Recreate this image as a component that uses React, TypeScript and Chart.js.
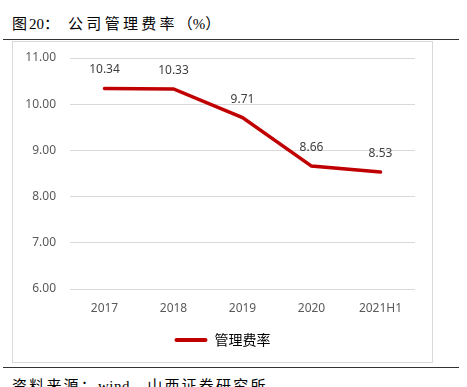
import React, { useEffect, useRef } from "react";
import { Chart, registerables } from "chart.js";

Chart.register(...registerables);

const categories = ["2017", "2018", "2019", "2020", "2021H1"];
const seriesName = "管理费率";
const values = [10.34, 10.33, 9.71, 8.66, 8.53];
const yTicks = [6, 7, 8, 9, 10, 11];

const RED = "#C00000";
const FONT = "'Noto Sans', 'Noto Sans CJK SC', sans-serif";
const CJK = "'Noto Sans CJK SC', sans-serif";
const SERIF = "'Liberation Serif', serif";

const dataLabelPlugin = {
  id: "dataLabels",
  afterDatasetsDraw(chart: any) {
    const ctx = chart.ctx;
    const meta = chart.getDatasetMeta(0);
    ctx.save();
    ctx.font = `12px ${FONT}`;
    ctx.fillStyle = "#404040";
    ctx.textAlign = "center";
    ctx.textBaseline = "middle";
    meta.data.forEach((pt: any, i: number) => {
      ctx.fillText(values[i].toFixed(2), pt.x, pt.y - 18.5);
    });
    ctx.restore();
  },
};

const centerLegendPlugin = {
  id: "centerLegend",
  afterLayout(chart: any) {
    const lg = chart.legend;
    if (lg) {
      lg.left = 0;
      lg.right = chart.width;
      lg.width = chart.width;
    }
  },
};

export default function App() {
  const canvasRef = useRef<HTMLCanvasElement | null>(null);

  useEffect(() => {
    const canvas = canvasRef.current;
    if (!canvas) return;
    const chart = new Chart(canvas, {
      type: "line",
      data: {
        labels: categories,
        datasets: [
          {
            label: seriesName,
            data: values,
            borderColor: RED,
            backgroundColor: RED,
            borderWidth: 3.5,
            borderCapStyle: "round",
            borderJoinStyle: "miter",
            pointRadius: 0,
            tension: 0,
          },
        ],
      },
      options: {
        responsive: false,
        animation: false,
        layout: { padding: { top: 16, left: 0, right: 17, bottom: 5 } },
        scales: {
          x: {
            offset: true,
            grid: { display: false, drawTicks: false },
            border: { display: false },
            ticks: {
              color: "#595959",
              font: { family: FONT, size: 12 },
              padding: 12,
            },
            afterFit(scale: any) {
              scale.height = 34;
            },
          },
          y: {
            min: 6,
            max: 11,
            grid: { color: "#d9d9d9", lineWidth: 1, drawTicks: false },
            border: { display: false },
            afterBuildTicks(scale: any) {
              scale.ticks = yTicks.map((v) => ({ value: v }));
            },
            ticks: {
              color: "#595959",
              font: { family: FONT, size: 12 },
              padding: 14,
              callback: (v: any) => Number(v).toFixed(2),
            },
            afterFit(scale: any) {
              scale.width = 57;
              scale.paddingTop = 0;
              scale.paddingBottom = 0;
            },
          },
        },
        plugins: {
          legend: {
            position: "bottom",
            labels: {
              color: "#808080",
              font: { family: CJK, size: 14 },
              padding: 10,
              useBorderRadius: true,
              borderRadius: 2,
              generateLabels: () => [
                {
                  text: seriesName,
                  fillStyle: RED,
                  strokeStyle: RED,
                  lineWidth: 0,
                  hidden: false,
                  datasetIndex: 0,
                  borderRadius: 2,
                },
              ],
              boxWidth: 33,
              boxHeight: 4,
            },
          },
          tooltip: { enabled: false },
        },
      },
      plugins: [dataLabelPlugin, centerLegendPlugin],
    } as any);
    return () => chart.destroy();
  }, []);

  const textBase: React.CSSProperties = {
    position: "absolute",
    fontSize: 15,
    lineHeight: 1,
    whiteSpace: "nowrap",
    color: "#000",
    fontFamily: CJK,
  };

  return (
    <div
      style={{
        position: "absolute",
        left: 0,
        top: 0,
        width: 467,
        height: 387,
        overflow: "hidden",
        background: "#fff",
      }}
    >
      <div style={{ ...textBase, left: 12, top: 15 }}>
        <span>图</span>
        <span style={{ fontFamily: SERIF, marginLeft: 2 }}>20</span>
        <span style={{ marginRight: 9 }}>：</span>
        <span style={{ letterSpacing: 3.3 }}>公司管理费率</span>
        <span>（</span>
        <span style={{ fontFamily: SERIF }}>%</span>
        <span>）</span>
      </div>
      <div
        style={{
          position: "absolute",
          left: 3,
          top: 39,
          width: 456,
          height: 1,
          background: "#333",
        }}
      />
      <div
        style={{
          position: "absolute",
          left: 12,
          top: 41,
          width: 421,
          height: 322,
          boxSizing: "border-box",
          border: "1px solid #d9d9d9",
        }}
      />
      <canvas
        ref={canvasRef}
        width={419}
        height={320}
        style={{
          position: "absolute",
          left: 13,
          top: 42,
          width: 419,
          height: 320,
        }}
      />
      <div
        style={{
          position: "absolute",
          left: 3,
          top: 367,
          width: 456,
          height: 1,
          background: "#333",
        }}
      />
      <div style={{ ...textBase, left: 12, top: 377 }}>
        <span style={{ letterSpacing: 2.2 }}>资料来源：</span>
        <span style={{ fontFamily: SERIF, letterSpacing: 0.5 }}>wind</span>
        <span style={{ letterSpacing: 2.2 }}>，山西证券研究所</span>
      </div>
    </div>
  );
}
